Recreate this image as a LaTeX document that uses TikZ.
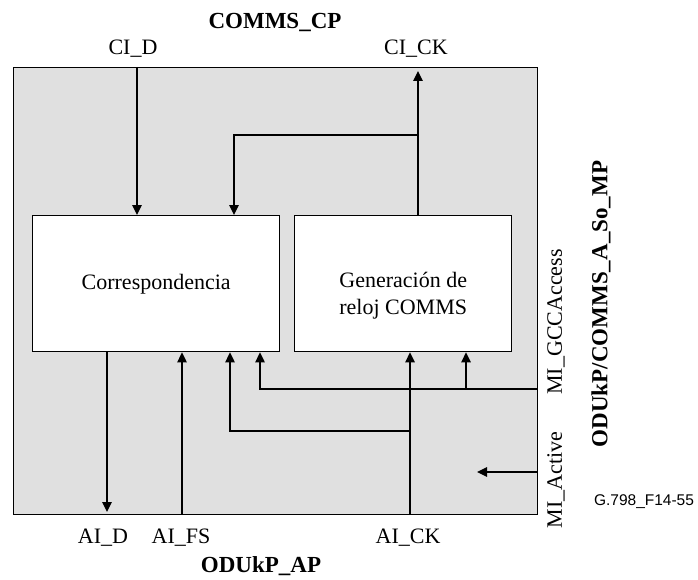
\documentclass[tikz,border=0pt]{standalone}
\usepackage{fontspec}
\setmainfont{Liberation Serif}
\newfontfamily\labelsans{Liberation Sans}
\usetikzlibrary{arrows.meta}
\definecolor{bgfill}{RGB}{224,224,224}
\begin{document}
\begin{tikzpicture}[x=1pt,y=-1pt,
  sig/.style={draw=black, line width=1.4pt},
  arr/.style={sig, -{Triangle[length=10pt,width=9.5pt]}},
  blk/.style={draw=black, line width=1.4pt, fill=white, inner sep=0pt,
              anchor=north west},
  lbl/.style={font=\fontsize{22}{26}\selectfont, inner sep=0pt},
  ttl/.style={font=\fontsize{23}{27}\selectfont\bfseries, inner sep=0pt}]
\useasboundingbox (0,0) rectangle (698,580);
% outer block
\node[draw=black, line width=1.4pt, fill=bgfill, inner sep=0pt, anchor=north west,
      minimum width=524pt, minimum height=447pt] (outer) at (13,67) {};
% inner blocks
\node[blk, minimum width=247pt, minimum height=136pt] (corr) at (32,215) {};
\node[blk, minimum width=217pt, minimum height=136pt] (gen) at (294,215) {};
\node[lbl] (corrtxt) at ([yshift=-1pt]corr.center) {Correspondencia};
\node[lbl, align=center, font=\fontsize{22}{26.5}\selectfont] (gentxt) at ([yshift=-12pt]gen.center) {Generación de\\ reloj COMMS};
% labels
\node[ttl] (ccp) at (275,22) {COMMS\_CP};
\node[lbl] (cid) at (133,49) {CI\_D};
\node[lbl] (cick) at (416,49) {CI\_CK};
\node[lbl] (aid) at (103,538) {AI\_D};
\node[lbl] (aifs) at (181,538) {AI\_FS};
\node[lbl] (aick) at (408,538) {AI\_CK};
\node[ttl] (oap) at (261,566) {ODUkP\_AP};
\node[lbl, rotate=90] (migcc) at (556,322) {MI\_GCCAccess};
\node[lbl, rotate=90] (miact) at (556,480) {MI\_Active};
\node[ttl, rotate=90] (mp) at (601,304) {ODUkP/COMMS\_A\_So\_MP};
\node[font=\labelsans\fontsize{15.5}{18}\selectfont, inner sep=0pt] (fig) at (644,502) {G.798\_F14-55};
% connector end points on the outer boundary
\coordinate (pcid) at (137,67);
\coordinate (pcick) at (418,67);
\coordinate (fb) at (418,135);
\coordinate (fbc) at (234,135);
\coordinate (paid) at (107,514);
\coordinate (paifs) at (182,514);
\coordinate (paick) at (410,514);
\coordinate (ckbr) at (410,431);
\coordinate (ckin) at (230,431);
\coordinate (gcc) at (537,389);
\coordinate (gccin) at (260,389);
\coordinate (gccbr) at (466,389);
\coordinate (act) at (537,472);
\coordinate (actend) at (477,472);
% connectors
\draw[arr] (pcid) -- (pcid |- corr.north);
\draw[arr, shorten >=4pt] (pcick |- gen.north) -- (pcick);
\draw[arr] (fb) -- (fbc) -- (fbc |- corr.north);
\draw[arr, shorten >=2pt] (paid |- corr.south) -- (paid);
\draw[arr] (paifs) -- (paifs |- corr.south);
\draw[arr] (paick) -- (paick |- gen.south);
\draw[arr] (ckbr) -- (ckin) -- (ckin |- corr.south);
\draw[arr] (gcc) -- (gccin) -- (gccin |- corr.south);
\draw[arr] (gccbr) -- (gccbr |- gen.south);
\draw[arr] (act) -- (actend);
\end{tikzpicture}
\end{document}
